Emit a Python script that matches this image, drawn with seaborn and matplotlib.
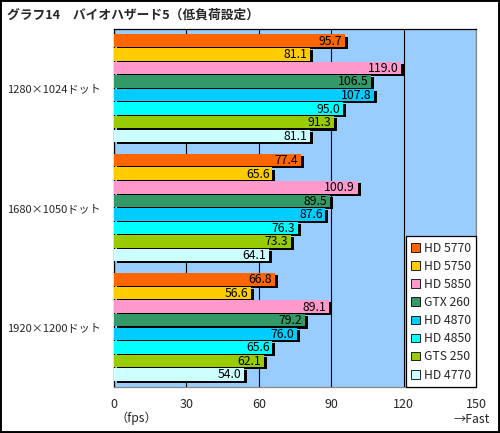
import numpy as np
import pandas as pd
import matplotlib.pyplot as plt
import matplotlib.patheffects as pe
from matplotlib.patches import Patch, Rectangle
import seaborn as sns

# Graph 14: Biohazard 5 (low load), fps
resolutions = ["1280×1024ドット", "1680×1050ドット", "1920×1200ドット"]
cards = ["HD 5770", "HD 5750", "HD 5850", "GTX 260", "HD 4870", "HD 4850", "GTS 250", "HD 4770"]
hd5770 = [95.7, 77.4, 66.8]
hd5750 = [81.1, 65.6, 56.6]
hd5850 = [119.0, 100.9, 89.1]
gtx260 = [106.5, 89.5, 79.2]
hd4870 = [107.8, 87.6, 76.0]
hd4850 = [95.0, 76.3, 65.6]
gts250 = [91.3, 73.3, 62.1]
hd4770 = [81.1, 64.1, 54.0]
colors = ["#FF6600", "#FFCC00", "#FF99CC", "#339966", "#00CCFF", "#00FFFF", "#99CC00", "#CCFFFF"]
xticks = [0, 30, 60, 90, 120, 150]

series = [hd5770, hd5750, hd5850, gtx260, hd4870, hd4850, gts250, hd4770]
rows = []
for card, vals in zip(cards, series):
    for res, v in zip(resolutions, vals):
        rows.append({"resolution": res, "card": card, "fps": v})
df = pd.DataFrame(rows)

sns.set_theme(style="white")
plt.rcParams["font.family"] = ["Noto Sans CJK JP", "DejaVu Sans"]

fig = plt.figure(figsize=(5, 4.33), dpi=100)
ax = fig.add_axes([0.228, 0.107, 0.724, 0.827])
ax.set_facecolor("#99CCFF")

sns.barplot(data=df, x="fps", y="resolution", hue="card", order=resolutions,
            hue_order=cards, palette=colors, orient="h", width=0.91, gap=0.08,
            saturation=1, errorbar=None, legend=False, ax=ax, zorder=3)

shadow = [pe.SimplePatchShadow(offset=(2.2, -1.5), shadow_rgbFace="black", alpha=1), pe.Normal()]
for cont in ax.containers:
    for bar in cont:
        bar.set_path_effects(shadow)
        bar.set_linewidth(0)
        w = bar.get_width()
        ax.annotate(f"{w:.1f}", (w, bar.get_y() + bar.get_height() / 2),
                    xytext=(-2, -0.3), textcoords="offset points",
                    ha="right", va="center", fontsize=8.8, color="black", zorder=5)

ax.set_xlim(0, 150)
ax.set_xticks(xticks)
ax.grid(axis="x", color="black", lw=0.8, zorder=1)
ax.set_axisbelow(True)
ax.set_xlabel("")
ax.set_ylabel("")
ax.tick_params(axis="x", length=0, pad=8.5, labelsize=9)
ax.tick_params(axis="y", length=0, pad=77, labelsize=8)
for lbl in ax.get_yticklabels():
    lbl.set_ha("left")
ax.set_yticks([0.5, 1.5], minor=True)
ax.tick_params(axis="y", which="minor", direction="in", length=2, color="black")

for side in ["top", "left"]:
    ax.spines[side].set_color("black")
    ax.spines[side].set_linewidth(0.9)
for side in ["right", "bottom"]:
    ax.spines[side].set_color("#888888")
    ax.spines[side].set_linewidth(0.9)

handles = [Patch(facecolor=c, edgecolor="black", lw=0.6, label=n) for n, c in zip(cards, colors)]
leg = ax.legend(handles=handles, loc="lower right", bbox_to_anchor=(1, 0), borderaxespad=0,
                fontsize=8.8, frameon=True, fancybox=False, framealpha=1,
                edgecolor="black", labelspacing=0.42, handlelength=0.72,
                handleheight=0.72, handletextpad=0.3, borderpad=0.42)
leg.get_frame().set_linewidth(0.9)
leg.set_zorder(6)

fig.text(0.014, 0.965, "グラフ14　バイオハザード5（低負荷設定）", fontsize=9.2, fontweight="bold",
         ha="left", va="center")
fig.text(0.23, 0.034, "（fps）", fontsize=8.8, ha="left", va="center")
fig.text(0.944, 0.032, "→Fast", fontsize=8.8, ha="center", va="center")

fig.patches.append(Rectangle((0, 0), 1, 1, transform=fig.transFigure, fill=False,
                             edgecolor="black", lw=2.8))

fig.savefig("out.png", dpi=100)
